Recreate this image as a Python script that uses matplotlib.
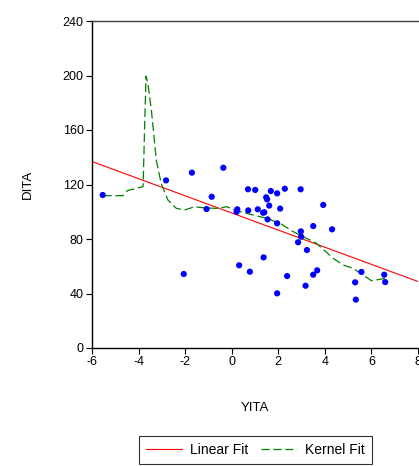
import numpy as np
import matplotlib
matplotlib.use("Agg")
import matplotlib.pyplot as plt
from matplotlib.lines import Line2D

plt.rcParams['font.family'] = ['Liberation Sans', 'DejaVu Sans']
plt.rcParams['axes.unicode_minus'] = False

# Observations
yita = [-5.54, -2.82, -1.71, -0.36, -0.86, -1.08, -2.06, 0.24, 0.21, 0.70,
        1.01, 0.71, 1.12, 1.35, 1.40, 1.68, 1.48, 1.52, 1.61, 1.95,
        2.28, 2.08, 1.54, 1.95, 2.96, 3.93, 2.97, 2.98, 3.50, 4.31,
        2.85, 3.23, 1.37, 0.32, 0.78, 2.38, 1.95, 3.17, 3.50, 3.67,
        5.30, 5.33, 5.57, 6.55, 6.59]
dita = [112.3, 123.0, 128.7, 132.3, 111.0, 102.0, 54.3, 101.8, 100.0, 116.5,
        116.0, 101.0, 101.8, 99.3, 99.6, 115.2, 110.6, 109.1, 104.5, 113.5,
        116.9, 102.3, 94.4, 91.5, 116.5, 105.0, 85.6, 81.7, 89.5, 87.1,
        77.6, 71.9, 66.5, 60.7, 56.0, 52.8, 40.1, 45.7, 53.8, 57.0,
        48.2, 35.5, 55.8, 53.8, 48.4]

# Kernel fit curve
kern_x = [-5.53, -4.67, -4.48, -3.81, -3.80, -3.74, -3.68, -3.60, -3.45, -3.24,
          -3.03, -2.74, -2.38, -2.02, -1.59, -1.16, -0.65, -0.21, 0.21, 0.92,
          1.50, 2.07, 2.64, 3.21, 3.64, 4.36, 4.79, 5.21, 5.64, 6.00,
          6.36, 6.57]
kern_y = [111.8, 111.8, 115.5, 118.4, 122.0, 162.4, 199.5, 194.0, 174.7, 138.0,
          120.8, 108.6, 102.5, 101.3, 103.7, 102.8, 102.5, 103.7, 100.8, 97.6,
          95.2, 91.5, 85.4, 80.5, 76.8, 65.8, 60.9, 58.5, 53.6, 49.4,
          50.4, 51.1]

x_ticks = [-6, -4, -2, 0, 2, 4, 6, 8]
y_ticks = [0, 40, 80, 120, 160, 200, 240]

fig = plt.figure(figsize=(4.19, 4.66), dpi=100)
ax = fig.add_axes([92 / 419, 1 - 348 / 466, 326 / 419, 327 / 466])

# Least-squares line over the full x range
slope, intercept = np.polyfit(yita, dita, 1)
lx = np.array([-6, 8])
ax.plot(lx, intercept + slope * lx, color='red', lw=0.8, zorder=2)
ax.plot(kern_x, kern_y, color='green', lw=0.9, ls=(0, (7, 3)), zorder=2)
ax.scatter(yita, dita, s=20, color='blue', edgecolors='none', zorder=3)

ax.set_xlim(-6, 8)
ax.set_ylim(0, 240)
ax.set_xticks(x_ticks)
ax.set_yticks(y_ticks)
ax.tick_params(direction='out', length=4, width=0.8, labelsize=9, pad=2)
for side in ['left', 'bottom', 'top', 'right']:
    ax.spines[side].set_linewidth(1.0)
ax.spines['top'].set_color('#404040')
ax.spines['right'].set_visible(False)

ax.set_xlabel('YITA', fontsize=9.5, labelpad=24)
ax.set_ylabel('DITA', fontsize=9.5, labelpad=21)

handles = [Line2D([], [], color='red', lw=0.8),
           Line2D([], [], color='green', lw=0.9, ls=(0, (6.5, 3)))]
leg = fig.legend(handles, ['Linear Fit', 'Kernel Fit'], loc='center',
                 bbox_to_anchor=(255.5 / 419, 1 - 450 / 466), ncol=2,
                 fontsize=10, frameon=True, fancybox=False, shadow=False,
                 handlelength=2.6, handletextpad=0.6, columnspacing=0.9,
                 borderpad=0.5)
leg.get_frame().set_edgecolor('black')
leg.get_frame().set_linewidth(0.8)

fig.savefig('out.png', dpi=100)
